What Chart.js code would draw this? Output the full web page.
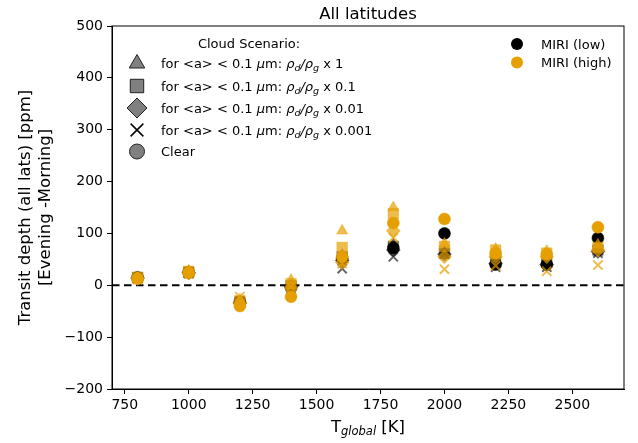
<!DOCTYPE html>
<html>
<head>
<meta charset="utf-8">
<script src="https://cdn.jsdelivr.net/npm/chart.js@4.4.0/dist/chart.umd.min.js"></script>
<style>
  html, body { margin: 0; padding: 0; background: #fff; }
  #wrap { width: 638px; height: 443px; }
</style>
</head>
<body>
<div id="wrap"><canvas id="transitChart" width="638" height="443"></canvas></div>
<script>
// temperatures (K)
const temps = [800, 1000, 1200, 1400, 1600, 1800, 2000, 2200, 2400, 2600];
const xTicks = [750, 1000, 1250, 1500, 1750, 2000, 2250, 2500];
const yTicks = [-200, -100, 0, 100, 200, 300, 400, 500];

// MIRI (low) - evening minus morning, ppm
const lowX1 = [15, 26, -32, 1, 58, 78, 64, 50, 45, 70];
const lowX01 = [15, 25, -33, -1, 55, 75, 62, 48, 44, 68];
const lowX001 = [14, 24, -34, -3, 48, 68, 60, 42, 40, 65];
const lowX0001 = [13, 23, -30, -6, 32, 55, 60, 35, 35, 62];
const lowClear = [15, 25, -32, -3, 52, 72, 100, 40, 40, 91];

// MIRI (high)
const highX1 = [16, 28, -28, 10, 105, 150, 80, 70, 66, 78];
const highX01 = [15, 27, -30, 3, 73, 138, 75, 68, 62, 73];
const highX001 = [13, 24, -35, -5, 44, 105, 55, 55, 55, 68];
const highX0001 = [11, 22, -22, -3, 42, 92, 31, 38, 27, 39];
const highClear = [13, 24, -40, -22, 55, 120, 128, 62, 60, 112];

const ORANGE = 'rgb(230,159,0)';
const ORANGE_A = 'rgba(230,159,0,0.7)';
const BLACK = 'rgb(0,0,0)';
const BLACK_A = 'rgba(0,0,0,0.6)';
const FONT = '"DejaVu Sans", sans-serif';

function pts(vals) {
  return vals.map((v, i) => ({ x: temps[i], y: v }));
}

function series(vals, style, radius, color, isCross) {
  return {
    data: pts(vals),
    pointStyle: style,
    pointRadius: radius,
    pointHoverRadius: radius,
    backgroundColor: color,
    borderColor: color,
    pointBorderWidth: isCross ? 2 : 0.5,
    showLine: false
  };
}

// orange datasets first so they are drawn on top of the black ones
const datasets = [
  series(highClear, 'circle', 6, ORANGE),
  series(highX0001, 'crossRot', 6.5, ORANGE_A, true),
  series(highX001, 'rectRot', 7, ORANGE_A),
  series(highX01, 'rect', 7.5, ORANGE_A),
  series(highX1, 'triangle', 6.5, ORANGE_A),
  series(lowClear, 'circle', 6, BLACK),
  series(lowX0001, 'crossRot', 6.5, BLACK_A, true),
  series(lowX001, 'rectRot', 7, BLACK_A),
  series(lowX01, 'rect', 7.5, BLACK_A),
  series(lowX1, 'triangle', 6.5, BLACK_A)
];

// draws text made of pieces with different fonts / offsets
function drawRich(ctx, x, y, parts, align) {
  let total = 0;
  parts.forEach(p => { ctx.font = p.font; total += ctx.measureText(p.t).width; });
  let cx = align === 'center' ? x - total / 2 : x;
  ctx.textAlign = 'left';
  parts.forEach(p => {
    ctx.font = p.font;
    ctx.fillText(p.t, cx, y + (p.dy || 0));
    cx += ctx.measureText(p.t).width;
  });
}

const decor = {
  id: 'decor',
  beforeDatasetsDraw(chart) {
    const { ctx, chartArea: a, scales } = chart;
    const y0 = scales.y.getPixelForValue(0);
    ctx.save();
    ctx.strokeStyle = '#000';
    ctx.lineWidth = 2;
    ctx.setLineDash([7.5, 4.5]);
    ctx.beginPath();
    ctx.moveTo(a.left, y0);
    ctx.lineTo(a.right, y0);
    ctx.stroke();
    ctx.restore();
  },
  afterDraw(chart) {
    const { ctx, chartArea: a } = chart;
    ctx.save();
    // axes box
    ctx.strokeStyle = '#000';
    ctx.lineWidth = 1;
    ctx.strokeRect(a.left, a.top, a.right - a.left, a.bottom - a.top);

    ctx.fillStyle = '#000';
    ctx.textBaseline = 'alphabetic';
    const cx = (a.left + a.right) / 2;

    // title
    ctx.font = '16.5px ' + FONT;
    ctx.textAlign = 'center';
    ctx.fillText('All latitudes', cx, 19);

    // x axis title
    drawRich(ctx, cx, 432, [
      { t: 'T', font: '16.5px ' + FONT },
      { t: 'global', font: 'italic 11.5px ' + FONT, dy: 3 },
      { t: ' [K]', font: '16.5px ' + FONT }
    ], 'center');

    // y axis title
    ctx.save();
    ctx.translate(0, (a.top + a.bottom) / 2);
    ctx.rotate(-Math.PI / 2);
    ctx.font = '16.5px ' + FONT;
    ctx.textAlign = 'center';
    ctx.fillText('Transit depth (all lats) [ppm]', 0, 30);
    ctx.fillText('[Evening -Morning]', 0, 50);
    ctx.restore();

    // scenario legend
    const reg = '13px ' + FONT;
    const it = 'italic 13px ' + FONT;
    const sub = 'italic 9.5px ' + FONT;
    ctx.font = reg;
    ctx.textAlign = 'center';
    ctx.fillText('Cloud Scenario:', 249, 48);
    const rows = [
      { style: 'triangle', r: 9, f: '1' },
      { style: 'rect', r: 9.5, f: '0.1' },
      { style: 'rectRot', r: 10, f: '0.01' },
      { style: 'crossRot', r: 9, f: '0.001' },
      { style: 'circle', r: 7.5, f: null }
    ];
    const rowY = [63.5, 86, 108, 130, 151.5];
    rows.forEach((row, i) => {
      const y = rowY[i];
      ctx.fillStyle = '#808080';
      ctx.strokeStyle = row.style === 'crossRot' ? '#000' : '#222';
      ctx.lineWidth = row.style === 'crossRot' ? 1.5 : 1;
      Chart.helpers.drawPoint(ctx, { pointStyle: row.style, radius: row.r, borderWidth: ctx.lineWidth }, 137, y);
      ctx.fillStyle = '#000';
      const ty = y + 4.5;
      if (row.f === null) {
        ctx.font = reg;
        ctx.textAlign = 'left';
        ctx.fillText('Clear', 161, ty);
      } else {
        drawRich(ctx, 161, ty, [
          { t: 'for <a> < 0.1 ', font: reg },
          { t: 'μ', font: it },
          { t: 'm: ', font: reg },
          { t: 'ρ', font: it },
          { t: 'd', font: sub, dy: 3 },
          { t: '/', font: it },
          { t: 'ρ', font: it },
          { t: 'g', font: sub, dy: 3 },
          { t: ' x ' + row.f, font: reg }
        ], 'left');
      }
    });

    // instrument legend
    const inst = [
      { label: 'MIRI (low)', color: BLACK, y: 44 },
      { label: 'MIRI (high)', color: ORANGE, y: 62.5 }
    ];
    inst.forEach(e => {
      ctx.fillStyle = e.color;
      ctx.strokeStyle = e.color;
      Chart.helpers.drawPoint(ctx, { pointStyle: 'circle', radius: 6, borderWidth: 0 }, 517, e.y);
      ctx.fillStyle = '#000';
      ctx.font = reg;
      ctx.textAlign = 'left';
      ctx.fillText(e.label, 541, e.y + 4.5);
    });
    ctx.restore();
  }
};

const ctx = document.getElementById('transitChart').getContext('2d');
const chart = new Chart(ctx, {
  type: 'scatter',
  data: { datasets: datasets },
  options: {
    responsive: false,
    animation: false,
    events: [],
    layout: { padding: { left: 0, right: 14, top: 26, bottom: 0 } },
    plugins: {
      legend: { display: false },
      tooltip: { enabled: false },
      title: { display: false }
    },
    scales: {
      x: {
        type: 'linear',
        min: 700,
        max: 2702,
        afterBuildTicks: (axis) => { axis.ticks = xTicks.map(v => ({ value: v })); },
        afterFit: (scale) => { scale.height = 54; },
        grid: { drawOnChartArea: false, drawTicks: true, tickLength: 5, tickColor: '#000' },
        border: { display: true, color: '#000' },
        ticks: {
          color: '#000',
          padding: 3,
          maxRotation: 0,
          font: { family: 'DejaVu Sans', size: 14 },
          callback: (v) => String(v)
        }
      },
      y: {
        type: 'linear',
        min: -200,
        max: 500,
        afterBuildTicks: (axis) => { axis.ticks = yTicks.map(v => ({ value: v })); },
        afterFit: (scale) => { scale.width = 112; },
        grid: { drawOnChartArea: false, drawTicks: true, tickLength: 5, tickColor: '#000' },
        border: { display: true, color: '#000' },
        ticks: {
          color: '#000',
          padding: 4,
          font: { family: 'DejaVu Sans', size: 14 },
          callback: (v) => String(v).replace('-', '\u2212')
        }
      }
    }
  },
  plugins: [decor]
});
</script>
</body>
</html>
